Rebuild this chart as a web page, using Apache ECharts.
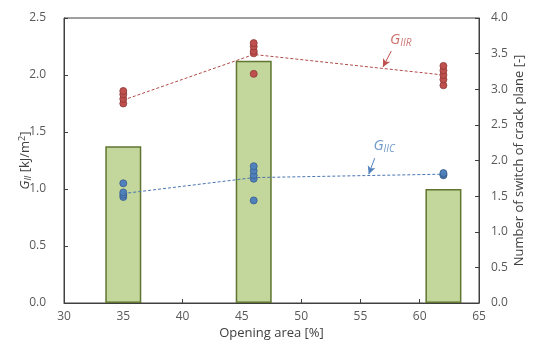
<!DOCTYPE html>
<html>
<head>
<meta charset="utf-8">
<script src="https://cdn.jsdelivr.net/npm/echarts@6/dist/echarts.min.js"></script>
<style>
  html, body { margin: 0; padding: 0; background: #fff; }
  #chart { width: 533px; height: 349px; }
</style>
</head>
<body>
<div id="chart"></div>
<script>
// opening area of each specimen group [%]
const openings = [35, 46, 62];
// number of switches of crack plane (right axis)
const switchCount = [2.2, 3.4, 1.6];
// G_IIR measurements per group [kJ/m2]
const giirValues = [
  [1.75, 1.79, 1.83, 1.86],
  [2.01, 2.19, 2.21, 2.25, 2.28],
  [1.91, 1.96, 2.00, 2.04, 2.08]
];
// G_IIC measurements per group [kJ/m2]
const giicValues = [
  [0.93, 0.95, 0.97, 1.05],
  [0.90, 1.09, 1.12, 1.16, 1.20],
  [1.12, 1.13, 1.14]
];
// trend lines through the group averages
const giirTrend = [1.78, 2.18, 2.00];
const giicTrend = [0.96, 1.10, 1.13];

const font = 'Open Sans, Liberation Sans, sans-serif';
const axisColor = '#404040';
const red = '#c0504d';
const blue = '#4f81bd';

function points(groups) {
  const out = [];
  groups.forEach((g, i) => g.forEach(v => out.push([openings[i], v])));
  return out;
}

function annotation(x, y, sub, color) {
  return {
    value: [x, y],
    label: {
      formatter: '{g|G}{s|' + sub + '}',
      rich: {
        g: { fontStyle: 'italic', fontSize: 15, color: color },
        s: { fontStyle: 'italic', fontSize: 10, color: color, padding: [7, 0, 0, 0] }
      }
    }
  };
}

const chart = echarts.init(document.getElementById('chart'));

chart.setOption({
  animation: false,
  textStyle: { fontFamily: font },
  grid: {
    left: 64, right: 54, top: 18, bottom: 46,
    outerBoundsMode: 'none', containLabel: false,
    show: true, borderColor: axisColor, borderWidth: 1
  },
  xAxis: {
    type: 'value', min: 30, max: 65, interval: 5,
    name: 'Opening area [%]', nameLocation: 'middle', nameGap: 24, nameMoveOverlap: false,
    nameTextStyle: { color: axisColor, fontSize: 13, fontFamily: font },
    axisLine: { lineStyle: { color: axisColor } },
    axisTick: { inside: true, length: 4, lineStyle: { color: axisColor } },
    axisLabel: { color: '#595959', fontSize: 12, margin: 8 },
    splitLine: { show: false }
  },
  yAxis: [
    {
      type: 'value', min: 0, max: 2.5, interval: 0.5,
      name: '{i|G}{s|II} [kJ/m{p|2}]', nameLocation: 'middle', nameGap: 31, nameRotate: 90,
      nameMoveOverlap: false,
      nameTextStyle: {
        color: axisColor, fontSize: 13, fontFamily: font,
        rich: {
          i: { fontStyle: 'italic', fontSize: 13, color: axisColor },
          s: { fontStyle: 'italic', fontSize: 9, color: axisColor, padding: [6, 0, 0, 0] },
          p: { fontSize: 9, color: axisColor, padding: [0, 0, 6, 0] }
        }
      },
      axisLine: { show: true, lineStyle: { color: axisColor } },
      axisTick: { show: true, inside: true, length: 4, lineStyle: { color: axisColor } },
      axisLabel: { color: '#595959', fontSize: 12, margin: 18, formatter: v => v.toFixed(1) },
      splitLine: { show: false }
    },
    {
      type: 'value', min: 0, max: 4, interval: 0.5, position: 'right',
      name: 'Number of switch of crack plane [-]', nameLocation: 'middle', nameGap: 34, nameRotate: 90,
      nameMoveOverlap: false,
      nameTextStyle: { color: axisColor, fontSize: 13, fontFamily: font },
      axisLine: { show: true, lineStyle: { color: axisColor } },
      axisTick: { show: true, inside: true, length: 4, lineStyle: { color: axisColor } },
      axisLabel: { color: '#595959', fontSize: 12, margin: 12, formatter: v => v.toFixed(1) },
      splitLine: { show: false }
    }
  ],
  series: [
    {
      type: 'bar', yAxisIndex: 1, barWidth: 36,
      data: openings.map((x, i) => [x, switchCount[i]]),
      itemStyle: { color: '#c3d69b', borderColor: '#5f7530', borderWidth: 1.5 }
    },
    {
      type: 'line', yAxisIndex: 0, symbol: 'none',
      data: openings.map((x, i) => [x, giirTrend[i]]),
      lineStyle: { color: '#b04a48', width: 1, type: [3, 2] },
      markLine: {
        silent: true, symbol: ['none', 'arrow'], symbolSize: [6, 8],
        lineStyle: { color: red, width: 1, type: 'solid' },
        label: { show: false },
        data: [[{ coord: [57.6, 2.21] }, { coord: [56.9, 2.07] }]]
      }
    },
    {
      type: 'line', yAxisIndex: 0, symbol: 'none',
      data: openings.map((x, i) => [x, giicTrend[i]]),
      lineStyle: { color: '#4a76b0', width: 1, type: [3, 2] },
      markLine: {
        silent: true, symbol: ['none', 'arrow'], symbolSize: [6, 8],
        lineStyle: { color: blue, width: 1, type: 'solid' },
        label: { show: false },
        data: [[{ coord: [56.2, 1.27] }, { coord: [55.7, 1.13] }]]
      }
    },
    {
      type: 'scatter', yAxisIndex: 0, symbolSize: 7,
      data: points(giirValues),
      itemStyle: { color: red, borderColor: '#8c3836', borderWidth: 0.8, opacity: 1 }
    },
    {
      type: 'scatter', yAxisIndex: 0, symbolSize: 7,
      data: points(giicValues),
      itemStyle: { color: blue, borderColor: '#385d8a', borderWidth: 0.8, opacity: 1 }
    },
    {
      type: 'scatter', yAxisIndex: 0, symbolSize: 0, silent: true,
      label: { show: true, position: 'inside' },
      data: [annotation(58.4, 2.31, 'IIR', red), annotation(57.0, 1.38, 'IIC', blue)]
    }
  ]
});
</script>
</body>
</html>
